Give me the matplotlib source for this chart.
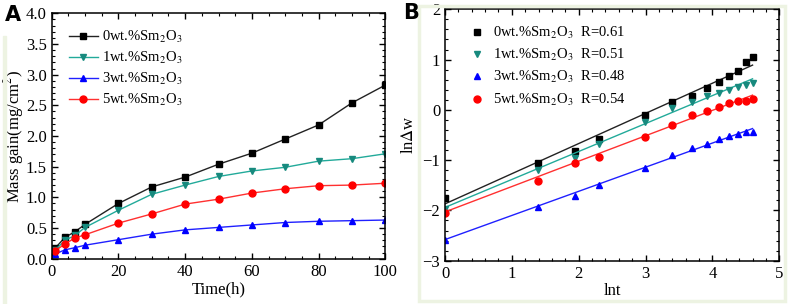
import numpy as np
import matplotlib.pyplot as plt
from matplotlib.patches import Rectangle
from matplotlib.ticker import MultipleLocator

plt.rcParams['font.family'] = ['Liberation Serif', 'DejaVu Serif']
plt.rcParams['mathtext.fontset'] = 'stix'

# oxidation time (h)
time_h = [1, 4, 7, 10, 20, 30, 40, 50, 60, 70, 80, 90, 100]

# mass gain (mg/cm2)
gain_0 = [0.17, 0.35, 0.44, 0.56, 0.90, 1.17, 1.33, 1.54, 1.72, 1.95, 2.18, 2.54, 2.83]
gain_1 = [0.14, 0.30, 0.38, 0.51, 0.79, 1.05, 1.20, 1.34, 1.43, 1.49, 1.59, 1.63, 1.71]
gain_3 = [0.076, 0.145, 0.18, 0.22, 0.31, 0.40, 0.47, 0.51, 0.55, 0.59, 0.61, 0.62, 0.63]
gain_5 = [0.13, 0.24, 0.34, 0.39, 0.58, 0.73, 0.89, 0.97, 1.07, 1.14, 1.19, 1.20, 1.23]

# ln(dw) points
ln_0 = [-1.75, -1.05, -0.81, -0.58, -0.10, 0.16, 0.28, 0.44, 0.55, 0.67, 0.78, 0.95, 1.05]
ln_1 = [-1.97, -1.20, -0.96, -0.67, -0.24, 0.03, 0.16, 0.28, 0.34, 0.40, 0.45, 0.49, 0.54]
ln_3 = [-2.58, -1.93, -1.71, -1.50, -1.15, -0.90, -0.75, -0.67, -0.57, -0.51, -0.48, -0.45, -0.45]
ln_5 = [-2.06, -1.41, -1.06, -0.94, -0.53, -0.31, -0.11, -0.02, 0.06, 0.13, 0.18, 0.18, 0.21]

# fitted lines in panel B
fit_slope = [0.60, 0.556, 0.48, 0.505]
fit_icpt = [-1.87, -1.94, -2.58, -2.03]
r_labels = ['R=0.61', 'R=0.51', 'R=0.48', 'R=0.54']

names = ['0wt.%Sm$_2$O$_3$', '1wt.%Sm$_2$O$_3$', '3wt.%Sm$_2$O$_3$', '5wt.%Sm$_2$O$_3$']
line_cols = ['#222222', '#22aa9a', '#2020ff', '#ff3030']
mark_cols = ['black', '#178a7e', '#0000ff', '#ff0000']
markers = ['s', 'v', '^', 'o']

gains = [gain_0, gain_1, gain_3, gain_5]
lns = [ln_0, ln_1, ln_3, ln_5]

fig = plt.figure(figsize=(7.89, 3.04), dpi=100)

# faint green frames from the source figure
fig.patches.append(Rectangle((3 / 789, 0), 2.5 / 789, 268 / 304, transform=fig.transFigure,
                             color='#edf3e2', zorder=0))
fig.patches.append(Rectangle((419 / 789, 3 / 304), 366 / 789, 295 / 304, transform=fig.transFigure,
                             fill=False, ec='#edf3e2', lw=2.5, zorder=0))

axA = fig.add_axes([51.7 / 789, 1 - 258.7 / 304, 333.6 / 789, 245.4 / 304])
axB = fig.add_axes([445 / 789, 1 - 260.7 / 304, 334.3 / 789, 251.4 / 304])

for i in range(4):
    axA.plot(time_h, gains[i], color=line_cols[i], lw=1, marker=markers[i],
             mfc=mark_cols[i], mec=mark_cols[i], ms=5, label=names[i])
axA.set_xlim(0, 100)
axA.set_ylim(0, 4)
axA.xaxis.set_major_locator(MultipleLocator(20))
axA.xaxis.set_minor_locator(MultipleLocator(5))
axA.yaxis.set_major_locator(MultipleLocator(0.5))
axA.yaxis.set_minor_locator(MultipleLocator(0.1))
axA.yaxis.set_major_formatter(plt.FormatStrFormatter('%.1f'))
axA.set_xlabel('Time(h)', fontsize=12, labelpad=1)
axA.set_ylabel('Mass gain(mg/cm$^2$)', fontsize=12, labelpad=0)
axA.legend(loc='upper left', frameon=False, fontsize=10.5, handlelength=2.0,
           bbox_to_anchor=(0.012, 0.99), labelspacing=0.33, handletextpad=0.25)

xfit = np.array([0, 4.6])
for i in range(4):
    axB.plot(xfit, fit_icpt[i] + fit_slope[i] * xfit, color=line_cols[i], lw=1)
    axB.plot(np.log(time_h), lns[i], ls='none', marker=markers[i], color=mark_cols[i], ms=5,
             label=names[i] + '  ' + r_labels[i])
axB.set_xlim(0, 5)
axB.set_ylim(-3, 2)
axB.xaxis.set_major_locator(MultipleLocator(1))
axB.xaxis.set_minor_locator(MultipleLocator(0.2))
axB.yaxis.set_major_locator(MultipleLocator(1))
axB.yaxis.set_minor_locator(MultipleLocator(0.2))
axB.set_xlabel('lnt', fontsize=12, labelpad=1)
axB.set_ylabel('ln$\\Delta$w', fontsize=12, labelpad=4)
axB.legend(loc='upper left', frameon=False, fontsize=10.5, handlelength=1.2,
           bbox_to_anchor=(0.03, 0.99), labelspacing=0.42, handletextpad=0.5)

for ax in (axA, axB):
    ax.tick_params(which='both', direction='in', top=True, right=True, labelsize=12)
    ax.tick_params(which='major', length=4, width=1)
    ax.tick_params(which='minor', length=2, width=0.8)
    for sp in ax.spines.values():
        sp.set_linewidth(1.1)

fig.text(5 / 789, 1 - 21 / 304, 'A', fontsize=15, fontweight='bold', family='DejaVu Sans')
fig.text(403 / 789, 1 - 19 / 304, 'B', fontsize=15, fontweight='bold', family='DejaVu Sans')

fig.savefig('out.png', dpi=100)
